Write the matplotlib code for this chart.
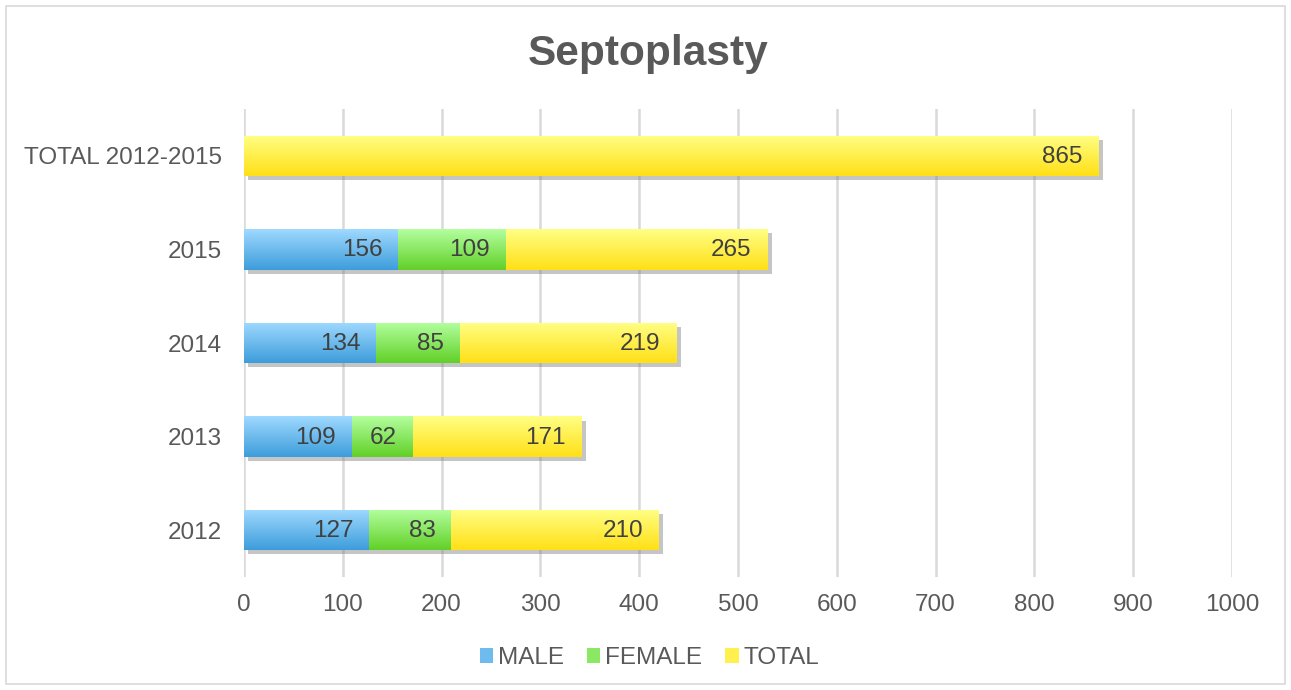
import numpy as np
import matplotlib
matplotlib.use("Agg")
import matplotlib.pyplot as plt
import matplotlib.patheffects as pe
from matplotlib.patches import Rectangle, Patch

categories = ["2012", "2013", "2014", "2015", "TOTAL 2012-2015"]
male = [127, 109, 134, 156, 0]
female = [83, 62, 85, 109, 0]
total = [210, 171, 219, 265, 865]
series_names = ["MALE", "FEMALE", "TOTAL"]
xticks = [0, 100, 200, 300, 400, 500, 600, 700, 800, 900, 1000]

grad = {
    "MALE": ("#3d9ddb", "#9fd9ff"),
    "FEMALE": ("#62d028", "#b3ff9e"),
    "TOTAL": ("#ffe016", "#ffff85"),
}

plt.rcParams["font.family"] = ["Liberation Sans", "DejaVu Sans"]

fig = plt.figure(figsize=(12.91, 6.90), dpi=100)
ax = fig.add_axes([244 / 1291, 1 - 577 / 690, 988 / 1291, 468 / 690])

y = np.arange(len(categories))
h = 0.43
lefts = np.zeros(len(categories))
shadow = [pe.SimplePatchShadow(offset=(3, -3), shadow_rgbFace="#7f7f7f", alpha=0.45), pe.Normal()]

def hex2rgb(c):
    c = c.lstrip("#")
    return np.array([int(c[i:i + 2], 16) / 255 for i in (0, 2, 4)])

for name, vals in zip(series_names, [male, female, total]):
    bot, top = grad[name]
    b, t = hex2rgb(bot), hex2rgb(top)
    g = np.linspace(0, 1, 64)[:, None, None]
    img = b * (1 - g) + t * g
    bars = ax.barh(y, vals, h, left=lefts, color=(b + t) / 2, zorder=2, linewidth=0)
    for bar, v, l in zip(bars, vals, lefts):
        if v <= 0:
            continue
        bar.set_path_effects(shadow)
        x0, y0 = bar.get_x(), bar.get_y()
        im = ax.imshow(img, extent=[x0, x0 + bar.get_width(), y0, y0 + bar.get_height()],
                       origin="lower", aspect="auto", zorder=2.5, interpolation="bilinear")
        im.set_clip_path(bar)
        ax.annotate(str(v), xy=(l + v, bar.get_y() + bar.get_height() / 2),
                    xytext=(-16, -1), textcoords="offset pixels",
                    ha="right", va="center", fontsize=17.5, color="#404040", zorder=4)
    lefts = lefts + np.array(vals)

ax.set_xlim(0, 1000)
ax.set_ylim(-0.5, len(categories) - 0.5)
ax.set_xticks(xticks)
ax.set_yticks(y)
ax.set_yticklabels(categories)
ax.tick_params(axis="both", length=0, labelsize=17.5, labelcolor="#595959")
ax.tick_params(axis="x", pad=12)
ax.tick_params(axis="y", pad=16)
ax.grid(axis="x", color="#d9d9d9", linewidth=1.8, zorder=0)
ax.set_axisbelow(True)
for s in ax.spines.values():
    s.set_visible(False)

fig.text(0.502, 1 - 54 / 690, "Septoplasty", ha="center", va="center",
         fontsize=30.5, fontweight="bold", color="#595959")

handles = [Patch(facecolor=(hex2rgb(grad[n][0]) + hex2rgb(grad[n][1])) / 2, label=n) for n in series_names]
fig.legend(handles=handles, loc="center", bbox_to_anchor=(0.503, 1 - 658 / 690), ncol=3,
           frameon=False, fontsize=17.5, handlelength=0.55, handleheight=0.55,
           handletextpad=0.2, columnspacing=0.95, labelcolor="#595959")

fig.patches.append(Rectangle((6 / 1291, 6 / 690), 1 - 12 / 1291, 1 - 12 / 690,
                             transform=fig.transFigure, fill=False, edgecolor="#d9d9d9", linewidth=1.2))

fig.savefig("out.png", dpi=100)
